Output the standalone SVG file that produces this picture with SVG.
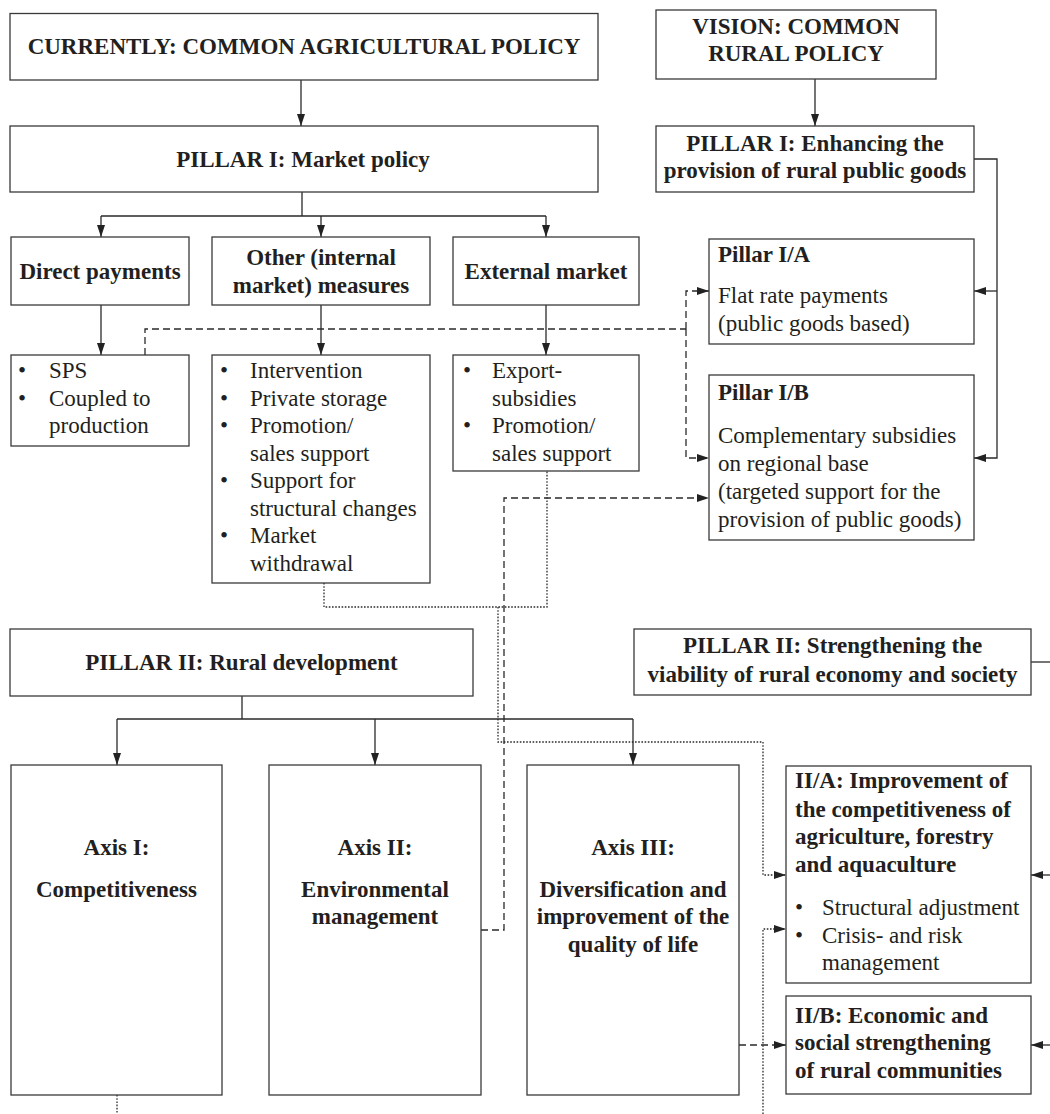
<svg xmlns="http://www.w3.org/2000/svg" width="1050" height="1114" viewBox="0 0 1050 1114">
<defs>
<marker id="arr" viewBox="0 0 12 8" refX="12" refY="4" markerWidth="12" markerHeight="8" markerUnits="userSpaceOnUse" orient="auto">
<path d="M0,0 L12,4 L0,8 z" fill="#222"/>
</marker>
</defs>
<style>
.box{fill:#fff;stroke:#3a3a3a;stroke-width:1.3}
.t{font-family:"Liberation Serif","Times New Roman",serif;font-size:23px;fill:#231f20}
.b{font-weight:bold}
.c{text-anchor:middle}
.ln{fill:none;stroke:#2a2a2a;stroke-width:1.3}
.dash{stroke-dasharray:7 4}
.dot{stroke-dasharray:1.6 1.6}
</style>
<rect width="1050" height="1114" fill="#fff"/>

<g id="connectors">
<path class="ln" d="M301,80 V126" marker-end="url(#arr)"/>
<path class="ln" d="M815,79 V126" marker-end="url(#arr)"/>
<path class="ln" d="M302,192 V216 M101,216 H546"/>
<path class="ln" d="M101,216 V237" marker-end="url(#arr)"/>
<path class="ln" d="M321,216 V237" marker-end="url(#arr)"/>
<path class="ln" d="M546,216 V237" marker-end="url(#arr)"/>
<path class="ln" d="M101,305 V355" marker-end="url(#arr)"/>
<path class="ln" d="M321,305 V355" marker-end="url(#arr)"/>
<path class="ln" d="M546,305 V355" marker-end="url(#arr)"/>
<path class="ln dash" d="M145,355 V329 H686"/>
<path class="ln dash" d="M686,329 V291 H709" marker-end="url(#arr)"/>
<path class="ln dash" d="M686,329 V458 H709" marker-end="url(#arr)"/>
<path class="ln" d="M974,159 H997 V458 H974" marker-end="url(#arr)"/>
<path class="ln" d="M997,291 H974" marker-end="url(#arr)"/>
<path class="ln dot" d="M324,583 V607 H547 V471"/>
<path class="ln dot" d="M498,607 V742 H763 V875 H786" marker-end="url(#arr)"/>
<path class="ln dash" d="M481,930 H504 V498 H709" marker-end="url(#arr)"/>
<path class="ln dot" d="M763,1114 V929 H786" marker-end="url(#arr)"/>
<path class="ln dash" d="M739,1045 H786" marker-end="url(#arr)"/>
<path class="ln" d="M1031,662 H1050"/>
<path class="ln" d="M1050,875 H1031" marker-end="url(#arr)"/>
<path class="ln" d="M1050,1045 H1031" marker-end="url(#arr)"/>
<path class="ln" d="M242,696 V719 M117,719 H633"/>
<path class="ln" d="M117,719 V765" marker-end="url(#arr)"/>
<path class="ln" d="M375,719 V765" marker-end="url(#arr)"/>
<path class="ln" d="M633,719 V765" marker-end="url(#arr)"/>
<path class="ln dot" d="M117,1095 V1114"/>
</g>

<g id="n-current">
<rect class="box" x="10" y="13.5" width="588" height="66.5"/>
<text class="t b c" x="304" y="54">CURRENTLY: COMMON AGRICULTURAL POLICY</text>
</g>
<g id="n-vision">
<rect class="box" x="656" y="10" width="280" height="69"/>
<text class="t b c" x="796" y="34">VISION: COMMON</text>
<text class="t b c" x="796" y="61">RURAL POLICY</text>
</g>
<g id="n-market">
<rect class="box" x="10" y="126" width="588" height="66"/>
<text class="t b c" x="303" y="167">PILLAR I: Market policy</text>
</g>
<g id="n-enhancing">
<rect class="box" x="656" y="126" width="318" height="66"/>
<text class="t b c" x="815" y="151">PILLAR I: Enhancing the</text>
<text class="t b c" x="815" y="178">provision of rural public goods</text>
</g>
<g id="n-direct">
<rect class="box" x="11" y="237" width="178" height="68"/>
<text class="t b c" x="100" y="279">Direct payments</text>
</g>
<g id="n-other">
<rect class="box" x="212" y="237" width="218" height="68"/>
<text class="t b c" x="321" y="265">Other (internal</text>
<text class="t b c" x="321" y="293">market) measures</text>
</g>
<g id="n-external">
<rect class="box" x="453" y="237" width="186" height="68"/>
<text class="t b c" x="546" y="279">External market</text>
</g>
<g id="n-sps">
<rect class="box" x="11" y="355" width="178" height="91"/>
<text class="t" x="18" y="378">•</text>
<text class="t" x="49" y="378">SPS</text>
<text class="t" x="18" y="405.5">•</text>
<text class="t" x="49" y="405.5">Coupled to</text>
<text class="t" x="49" y="433">production</text>
</g>
<g id="n-otherlist">
<rect class="box" x="212" y="355" width="218" height="228"/>
<text class="t" x="220" y="378">•</text>
<text class="t" x="250" y="378">Intervention</text>
<text class="t" x="220" y="405.5">•</text>
<text class="t" x="250" y="405.5">Private storage</text>
<text class="t" x="220" y="433">•</text>
<text class="t" x="250" y="433">Promotion/</text>
<text class="t" x="250" y="460.5">sales support</text>
<text class="t" x="220" y="488">•</text>
<text class="t" x="250" y="488">Support for</text>
<text class="t" x="250" y="515.5">structural changes</text>
<text class="t" x="220" y="543">•</text>
<text class="t" x="250" y="543">Market</text>
<text class="t" x="250" y="570.5">withdrawal</text>
</g>
<g id="n-extlist">
<rect class="box" x="453" y="355" width="186" height="116"/>
<text class="t" x="463" y="378">•</text>
<text class="t" x="492" y="378">Export-</text>
<text class="t" x="492" y="405.5">subsidies</text>
<text class="t" x="463" y="433">•</text>
<text class="t" x="492" y="433">Promotion/</text>
<text class="t" x="492" y="460.5">sales support</text>
</g>
<g id="n-pillarIA">
<rect class="box" x="709" y="239" width="265" height="105"/>
<text class="t b" x="718" y="262">Pillar I/A</text>
<text class="t" x="718" y="303">Flat rate payments</text>
<text class="t" x="718" y="331">(public goods based)</text>
</g>
<g id="n-pillarIB">
<rect class="box" x="709" y="375" width="265" height="165"/>
<text class="t b" x="718" y="400">Pillar I/B</text>
<text class="t" x="718" y="443">Complementary subsidies</text>
<text class="t" x="718" y="471">on regional base</text>
<text class="t" x="718" y="499">(targeted support for the</text>
<text class="t" x="718" y="527">provision of public goods)</text>
</g>
<g id="n-rural">
<rect class="box" x="10" y="629" width="463" height="67"/>
<text class="t b c" x="241.5" y="670">PILLAR II: Rural development</text>
</g>
<g id="n-strengthening">
<rect class="box" x="634" y="629" width="397" height="66"/>
<text class="t b c" x="832.5" y="653">PILLAR II: Strengthening the</text>
<text class="t b c" x="832.5" y="682">viability of rural economy and society</text>
</g>
<g id="n-axis1">
<rect class="box" x="11" y="765" width="211" height="330"/>
<text class="t b c" x="116.5" y="855">Axis I:</text>
<text class="t b c" x="116.5" y="897">Competitiveness</text>
</g>
<g id="n-axis2">
<rect class="box" x="269" y="765" width="212" height="330"/>
<text class="t b c" x="375" y="855">Axis II:</text>
<text class="t b c" x="375" y="897">Environmental</text>
<text class="t b c" x="375" y="924">management</text>
</g>
<g id="n-axis3">
<rect class="box" x="527" y="765" width="212" height="330"/>
<text class="t b c" x="633" y="855">Axis III:</text>
<text class="t b c" x="633" y="897">Diversification and</text>
<text class="t b c" x="633" y="924">improvement of the</text>
<text class="t b c" x="633" y="952">quality of life</text>
</g>
<g id="n-IIA">
<rect class="box" x="786" y="766" width="245" height="217"/>
<text class="t b" x="795" y="788">II/A: Improvement of</text>
<text class="t b" x="795" y="817">the competitiveness of</text>
<text class="t b" x="795" y="844">agriculture, forestry</text>
<text class="t b" x="795" y="872">and aquaculture</text>
<text class="t" x="795" y="915">•</text>
<text class="t" x="822" y="915">Structural adjustment</text>
<text class="t" x="795" y="943">•</text>
<text class="t" x="822" y="943">Crisis- and risk</text>
<text class="t" x="822" y="970">management</text>
</g>
<g id="n-IIB">
<rect class="box" x="786" y="996" width="245" height="98"/>
<text class="t b" x="795" y="1023">II/B: Economic and</text>
<text class="t b" x="795" y="1050">social strengthening</text>
<text class="t b" x="795" y="1078">of rural communities</text>
</g>
</svg>
